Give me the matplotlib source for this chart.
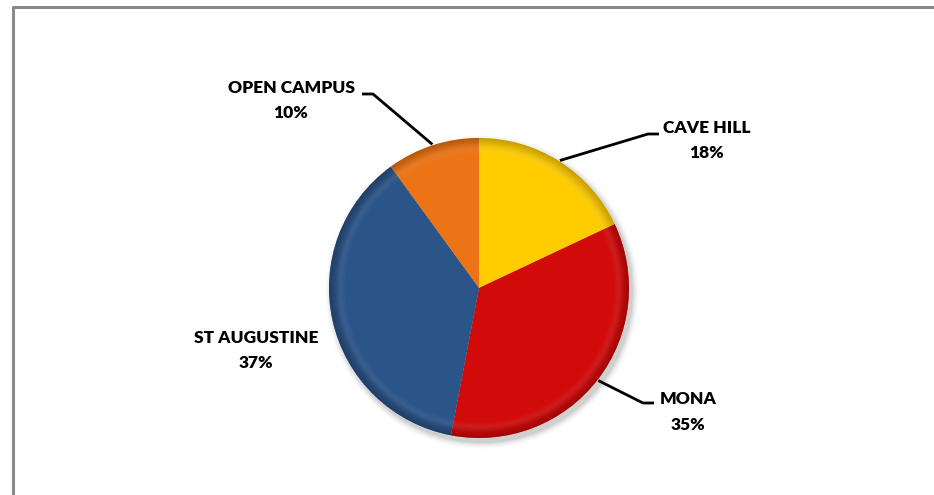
import numpy as np
import matplotlib
matplotlib.use("Agg")
import matplotlib.pyplot as plt
from matplotlib.colors import to_rgb

categories = ["CAVE HILL", "MONA", "ST AUGUSTINE", "OPEN CAMPUS"]
values = [18, 35, 37, 10]
colors = ["#FFCC00", "#D10A0A", "#2B5489", "#EC7414"]

W, H = 934, 495
fig = plt.figure(figsize=(W / 100, H / 100), dpi=100)
ax = fig.add_axes([0, 0, 1, 1])

cx, cy, R = 479, H - 288, 150

# soft shadow
for i, a in enumerate(np.linspace(0.05, 0.012, 6)):
    sh = plt.Circle((cx + 3, cy - 4), R + 1 + i * 1.2, color="black", alpha=a, lw=0, zorder=1)
    ax.add_patch(sh)

wedges, _ = ax.pie(values, colors=colors, startangle=90, counterclock=False,
                   center=(cx, cy), radius=R, frame=True,
                   wedgeprops=dict(linewidth=0.8, edgecolor=(1, 1, 1, 0.35), zorder=2))
ax.set_xlim(0, W)
ax.set_ylim(0, H)
ax.set_aspect("equal")
ax.axis("off")

# frame (top and left edges visible)
ax.plot([13, 13, W + 5], [-5, H - 7, H - 7], color="#8a8a8a", lw=2.2, solid_capstyle="butt")

# radial shading clipped to each wedge (bevel-like look)
yy, xx = np.mgrid[cy - R - 2:cy + R + 2:1.0, cx - R - 2:cx + R + 2:1.0]
rr = np.hypot(xx - cx, yy - cy) / R
shade = np.clip(1.0 - 0.25 * np.clip((rr - 0.9) / 0.1, 0, 1) ** 1.5, 0, 1)
hl = np.clip(1 - np.abs(rr - 0.93) / 0.04, 0, 1) * 0.08
for w, c in zip(wedges, colors):
    rgb = np.array(to_rgb(c))
    img = rgb[None, None, :] * shade[..., None] + hl[..., None] * (1 - rgb[None, None, :])
    img = np.clip(img, 0, 1)
    im = ax.imshow(img, extent=(cx - R - 2, cx + R + 2, cy - R - 2, cy + R + 2),
                   origin="lower", zorder=2.5, interpolation="bilinear")
    im.set_clip_path(w)

ax.set_xlim(0, W)
ax.set_ylim(0, H)

# labels with leader lines (image pixel coords, y from top)
label_pos = {"CAVE HILL": (707, 128), "MONA": (688, 399),
             "ST AUGUSTINE": (256, 338), "OPEN CAMPUS": (291, 88)}
leader_pts = {"CAVE HILL": [(648, 134), (659, 134)],
              "MONA": [(643, 403), (654, 403)],
              "OPEN CAMPUS": [(373, 94), (362, 94)]}

total = sum(values)
cum = 0
for cat, v in zip(categories, values):
    mid = 90 - (cum + v / 2) / total * 360
    cum += v
    pct = v / total * 100
    lx, ly = label_pos[cat]
    for txt, dy in ((cat, 0), (f"{pct:.0f}%", 25.5)):
        ax.text(lx, H - ly - dy, txt, ha="center", va="center", fontsize=12.5,
                fontweight="heavy", family="Lato", color="black", zorder=5)
    if cat in leader_pts:
        ex = cx + (R + 1) * np.cos(np.radians(mid))
        ey = cy + (R + 1) * np.sin(np.radians(mid))
        xs = [ex] + [p[0] for p in leader_pts[cat]]
        ys = [ey] + [H - p[1] for p in leader_pts[cat]]
        ax.plot(xs, ys, color="black", lw=2, zorder=4, solid_capstyle="butt")

fig.savefig("out.png", dpi=100, facecolor="white")
